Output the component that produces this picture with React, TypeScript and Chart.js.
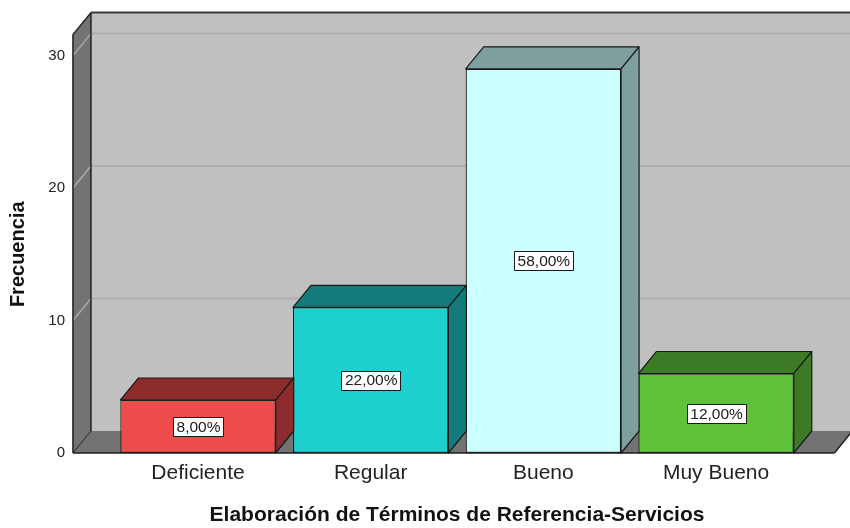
import React, { useEffect, useRef } from "react";
import { Chart, registerables } from "chart.js";

Chart.register(...registerables);

const categories = ["Deficiente", "Regular", "Bueno", "Muy Bueno"];
const frequencies = [4, 11, 29, 6];
const percentLabels = ["8,00%", "22,00%", "58,00%", "12,00%"];
const yTickValues = [0, 10, 20, 30];
const frontColors = ["#ee4b4b", "#1dcfcf", "#ccffff", "#5ec23a"];
const sideColors = ["#8c2c2c", "#147b7b", "#7f9f9f", "#3c7a26"];
const xTitle = "Elaboración de Términos de Referencia-Servicios";
const yTitle = "Frecuencia";

const FONT = "'Liberation Sans', Arial, Helvetica, sans-serif";
const DX = 18;
const DY = -22;

function poly(ctx: CanvasRenderingContext2D, pts: number[][], fill: string | null, stroke: string | null, lw = 1) {
  ctx.beginPath();
  ctx.moveTo(pts[0][0], pts[0][1]);
  for (let i = 1; i < pts.length; i++) ctx.lineTo(pts[i][0], pts[i][1]);
  ctx.closePath();
  if (fill) {
    ctx.fillStyle = fill;
    ctx.fill();
  }
  if (stroke) {
    ctx.strokeStyle = stroke;
    ctx.lineWidth = lw;
    ctx.stroke();
  }
}

function line(ctx: CanvasRenderingContext2D, x0: number, y0: number, x1: number, y1: number, color: string, lw: number) {
  ctx.beginPath();
  ctx.moveTo(x0, y0);
  ctx.lineTo(x1, y1);
  ctx.strokeStyle = color;
  ctx.lineWidth = lw;
  ctx.stroke();
}

const threeD = {
  id: "threeD",
  beforeDatasetsDraw(chart: any) {
    const { ctx, chartArea: ca, scales } = chart;
    const ys = scales.y;
    const fl = ca.left - 38.7;
    const fr = ca.right + 32;
    const fb = ys.getPixelForValue(0);
    const ft = ys.getPixelForValue(yTickValues[yTickValues.length - 1]) - 21;
    ctx.save();
    // back wall
    ctx.fillStyle = "#c0c0c0";
    ctx.fillRect(fl + DX, ft + DY, fr - fl + 40, fb - ft);
    // back wall gridlines
    yTickValues.forEach((v) => {
      if (v === 0) return;
      const py = ys.getPixelForValue(v);
      line(ctx, fl + DX, py + DY, fr + DX + 30, py + DY, "#aeaeae", 2);
    });
    // left wall
    poly(ctx, [[fl, ft], [fl + DX, ft + DY], [fl + DX, fb + DY], [fl, fb]], "#737373", null);
    yTickValues.forEach((v) => {
      if (v === 0) return;
      const py = ys.getPixelForValue(v);
      line(ctx, fl, py, fl + DX, py + DY, "#a9a9a9", 1.5);
    });
    // floor
    poly(ctx, [[fl, fb], [fl + DX, fb + DY], [fr + DX, fb + DY], [fr, fb]], "#737373", null);
    // outlines
    line(ctx, fl, ft, fl, fb, "#1e1e1e", 1.5);
    line(ctx, fl, ft, fl + DX, ft + DY, "#1e1e1e", 1.5);
    line(ctx, fl + DX, ft + DY, fl + DX, fb + DY, "#1e1e1e", 1.5);
    line(ctx, fl + DX, ft + DY, fr + DX + 30, ft + DY, "#3a3a3a", 2);
    line(ctx, fl, fb, fr, fb, "#1e1e1e", 1.5);
    line(ctx, fl, fb, fl + DX, fb + DY, "#1e1e1e", 1);
    line(ctx, fr, fb, fr + DX, fb + DY, "#1e1e1e", 1.5);
    ctx.restore();
  },
  afterDatasetsDraw(chart: any) {
    const { ctx } = chart;
    const meta = chart.getDatasetMeta(0);
    ctx.save();
    ctx.lineJoin = "round";
    meta.data.forEach((bar: any, i: number) => {
      const { x, y, base, width } = bar.getProps(["x", "y", "base", "width"], true);
      const x0 = x - width / 2;
      const x1 = x + width / 2;
      // top face
      poly(ctx, [[x0, y], [x0 + DX, y + DY], [x1 + DX, y + DY], [x1, y]], sideColors[i], "#1a1a1a", 1.2);
      // side face
      poly(ctx, [[x1, y], [x1 + DX, y + DY], [x1 + DX, base + DY], [x1, base]], sideColors[i], "#1a1a1a", 1.2);
      // label box
      const cy = (y + base) / 2;
      ctx.font = `15.5px ${FONT}`;
      const tw = ctx.measureText(percentLabels[i]).width;
      const bw = Math.round(tw + 6);
      const bh = 19;
      const bx = Math.round(x - bw / 2);
      const by = Math.round(cy - bh / 2);
      ctx.fillStyle = "#ffffff";
      ctx.fillRect(bx, by, bw, bh);
      ctx.strokeStyle = "#1a1a1a";
      ctx.lineWidth = 1;
      ctx.strokeRect(bx + 0.5, by + 0.5, bw, bh);
      ctx.fillStyle = "#1a1a1a";
      ctx.textAlign = "center";
      ctx.textBaseline = "middle";
      ctx.fillText(percentLabels[i], x + 0.5, cy + 1);
    });
    ctx.restore();
  },
};

export default function App() {
  const ref = useRef<HTMLCanvasElement | null>(null);
  useEffect(() => {
    if (!ref.current) return;
    const chart = new Chart(ref.current, {
      type: "bar",
      data: {
        labels: categories,
        datasets: [
          {
            data: frequencies,
            backgroundColor: frontColors,
            borderColor: "#1a1a1a",
            borderWidth: 1.2,
            borderSkipped: false,
            categoryPercentage: 0.9,
            barPercentage: 1,
          },
        ],
      },
      options: {
        responsive: false,
        animation: false,
        layout: { padding: { top: 54, right: 47.6, left: 0, bottom: 0 } },
        plugins: { legend: { display: false }, tooltip: { enabled: false } },
        scales: {
          x: {
            grid: { display: false, drawTicks: false },
            border: { display: false },
            ticks: { font: { family: FONT, size: 21 }, color: "#222222", padding: 8 },
            title: {
              display: true,
              text: xTitle,
              font: { family: FONT, size: 21, weight: "bold" },
              color: "#111111",
              padding: { top: 0, bottom: 0 },
            },
            afterFit: (s: any) => {
              s.height = 75;
            },
          },
          y: {
            min: 0,
            max: 30,
            grid: { display: false, drawTicks: false },
            border: { display: false },
            ticks: {
              stepSize: 10,
              font: { family: FONT, size: 15 },
              color: "#222222",
              padding: 46.6,
            },
            title: {
              display: true,
              text: yTitle,
              font: { family: FONT, size: 20, weight: "bold" },
              color: "#111111",
              padding: { top: 6, bottom: 0 },
            },
            afterFit: (s: any) => {
              s.width = 111.65;
            },
          },
        },
      },
      plugins: [threeD],
    });
    return () => chart.destroy();
  }, []);
  return (
    <div style={{ position: "fixed", left: 0, top: 0, width: 850, height: 528, background: "#ffffff" }}>
      <canvas ref={ref} width={850} height={528} style={{ display: "block" }} />
    </div>
  );
}
